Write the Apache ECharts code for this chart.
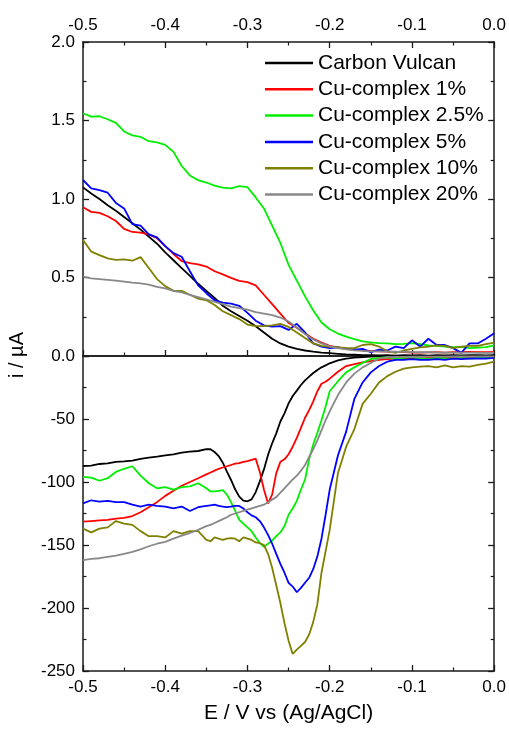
<!DOCTYPE html>
<html>
<head>
<meta charset="utf-8">
<script src="https://cdn.jsdelivr.net/npm/echarts@6/dist/echarts.min.js"></script>
<style>
html,body{margin:0;padding:0;background:#fff;}
#chart{width:509px;height:731px;}
</style>
</head>
<body>
<div id="chart"></div>
<script>
// ---------- DATA ----------
const seriesNames = ["Carbon Vulcan","Cu-complex 1%","Cu-complex 2.5%","Cu-complex 5%","Cu-complex 10%","Cu-complex 20%"];
const seriesColors = ["#000000","#ff0000","#00ee00","#0000ff","#808000","#888888"];

// Top panel (anodic, µA), x step 0.01
const xTop = [-0.50,-0.49,-0.48,-0.47,-0.46,-0.45,-0.44,-0.43,-0.42,-0.41,-0.40,-0.39,-0.38,-0.37,-0.36,-0.35,-0.34,-0.33,-0.32,-0.31,-0.30,-0.29,-0.28,-0.27,-0.26,-0.25,-0.24,-0.23,-0.22,-0.21,-0.20,-0.19,-0.18,-0.17,-0.16,-0.15,-0.14,-0.13,-0.12,-0.11,-0.10,-0.09,-0.08,-0.07,-0.06,-0.05,-0.04,-0.03,-0.02,-0.01,0.00];

const topBlack = [1.074,1.035,1.0,0.96,0.925,0.885,0.845,0.805,0.76,0.715,0.66,0.61,0.56,0.51,0.46,0.415,0.37,0.32,0.285,0.255,0.225,0.19,0.15,0.11,0.08,0.06,0.045,0.035,0.028,0.022,0.018,0.014,0.01,0.008,0.006,0.005,0.004,0.006,0.003,0.005,0.004,0.006,0.003,0.005,0.004,0.006,0.004,0.005,0.006,0.004,0.005];
const topRed = [0.947,0.918,0.912,0.89,0.86,0.81,0.79,0.786,0.775,0.75,0.70,0.65,0.605,0.592,0.584,0.57,0.54,0.52,0.498,0.478,0.47,0.45,0.39,0.33,0.27,0.21,0.18,0.145,0.11,0.085,0.065,0.055,0.045,0.04,0.036,0.032,0.03,0.028,0.026,0.025,0.022,0.022,0.023,0.024,0.022,0.025,0.024,0.026,0.025,0.024,0.025];
const topGreen = [1.546,1.525,1.527,1.508,1.485,1.43,1.405,1.396,1.368,1.36,1.345,1.30,1.21,1.15,1.12,1.105,1.085,1.072,1.068,1.082,1.075,1.01,0.94,0.83,0.72,0.58,0.48,0.38,0.29,0.213,0.17,0.143,0.123,0.107,0.093,0.087,0.082,0.08,0.076,0.077,0.082,0.075,0.068,0.064,0.06,0.056,0.058,0.05,0.054,0.057,0.068];
const topBlue = [1.121,1.068,1.057,1.04,0.975,0.94,0.84,0.83,0.775,0.755,0.70,0.655,0.632,0.54,0.45,0.40,0.355,0.34,0.333,0.32,0.275,0.225,0.195,0.187,0.19,0.166,0.205,0.15,0.08,0.06,0.05,0.055,0.045,0.04,0.045,0.025,0.04,0.035,0.06,0.05,0.10,0.06,0.11,0.07,0.07,0.05,0.02,0.08,0.08,0.11,0.145];
const topOlive = [0.739,0.665,0.643,0.622,0.612,0.615,0.607,0.63,0.56,0.49,0.445,0.415,0.415,0.39,0.365,0.355,0.325,0.285,0.26,0.235,0.20,0.19,0.19,0.195,0.205,0.185,0.15,0.115,0.08,0.065,0.058,0.055,0.052,0.05,0.07,0.075,0.06,0.03,0.02,0.035,0.045,0.055,0.06,0.068,0.065,0.05,0.06,0.065,0.065,0.075,0.085];
const topGray = [0.505,0.495,0.49,0.485,0.48,0.474,0.468,0.463,0.455,0.44,0.43,0.415,0.405,0.39,0.375,0.36,0.345,0.33,0.315,0.305,0.295,0.28,0.27,0.26,0.245,0.22,0.18,0.14,0.105,0.08,0.062,0.05,0.042,0.036,0.032,0.03,0.029,0.028,0.027,0.026,0.025,0.024,0.024,0.023,0.022,0.022,0.021,0.021,0.02,0.02,0.02];

// Bottom panel (cathodic, µA)
const xBottom = [-0.50,-0.49,-0.48,-0.47,-0.46,-0.45,-0.44,-0.43,-0.42,-0.41,-0.40,-0.39,-0.38,-0.37,-0.36,-0.35,-0.345,-0.34,-0.335,-0.33,-0.325,-0.32,-0.315,-0.31,-0.305,-0.30,-0.295,-0.29,-0.285,-0.28,-0.275,-0.27,-0.265,-0.26,-0.255,-0.25,-0.245,-0.24,-0.235,-0.23,-0.225,-0.22,-0.215,-0.21,-0.205,-0.20,-0.19,-0.18,-0.17,-0.16,-0.15,-0.14,-0.13,-0.12,-0.11,-0.10,-0.09,-0.08,-0.07,-0.06,-0.05,-0.04,-0.03,-0.02,-0.01,0.00];

const botBlack = [-87.3,-87,-85.7,-85.2,-84.1,-83.6,-83,-81.7,-80.7,-79.9,-78.8,-78,-76.7,-75.9,-75.4,-74,-74,-76.2,-79.4,-84.7,-91.8,-98.4,-105.8,-111.6,-114.8,-115.3,-113.8,-108,-99.5,-90,-78.5,-69.3,-61.4,-52,-45.5,-37.6,-31.7,-27.5,-23,-19.3,-16.4,-13.5,-11.1,-9,-7.4,-5.8,-3.5,-2,-1.3,-0.8,-0.5,-0.3,-0.3,-0.2,-0.2,-0.2,-0.1,-0.1,-0.1,-0.1,-0.1,0,0,0,0,0];
const botRed = [-131.5,-131,-130.5,-130,-129,-128.5,-127,-124,-120,-116,-111,-107,-103,-100,-97,-94,-92.5,-91,-89.5,-88.5,-87.5,-86.5,-85.5,-85,-84,-83.5,-82.5,-81.5,-92,-106,-117,-110,-93,-84,-82,-78,-72,-65,-57,-49,-43,-36,-28,-22,-20.4,-18,-12.5,-8,-6.5,-5,-4,-3,-2.5,-2,-2,-1.8,-1.8,-1.6,-1.5,-1.5,-1.3,-1.2,-1.2,-1.1,-1,-1];
const botGreen = [-96,-96.5,-99,-97,-92,-89.5,-87.5,-95,-101,-105,-104,-106,-104,-103.5,-101,-105,-107.5,-107.5,-107,-106.5,-110,-116,-123,-130,-133,-136,-139,-144,-148.5,-151.5,-149,-146.5,-143,-140,-135,-126,-121,-115,-106,-98,-82,-70,-61,-51,-40,-28,-20,-13,-9,-5.5,-2.5,-1.5,-1,-2,-1.5,-1,-2,-2.5,-1.5,-2,-2,-1.5,-2,-1.5,-1.5,-1];
const botBlue = [-117,-114.5,-115.5,-115,-116,-116,-118,-119.5,-118,-119,-119.5,-121,-119.5,-123,-120,-119,-118.5,-118,-119,-119.5,-120,-119.5,-119,-119,-121,-124,-126.5,-128,-131,-136,-142,-149,-157,-165,-172,-180,-183,-187.5,-184,-180,-176,-169,-159,-145,-126,-106,-79,-60,-34,-21,-13,-8,-4.5,-3,-3,-2.5,-3,-3,-2.5,-3,-2,-2.5,-2,-2,-2,-1.5];
const botOlive = [-137,-140,-137,-136,-131,-133,-134,-139,-143,-143,-144,-139,-141,-139,-139,-146,-147,-144,-145,-146,-145,-144.5,-145,-147,-144,-145,-146,-148,-148.5,-150,-157,-168,-182,-196,-212,-226,-236.5,-233,-230,-227,-221,-211,-197,-172,-155,-138,-93,-72,-58,-38,-30,-21,-16,-12.5,-10,-9,-8.5,-8,-9,-7.5,-9,-8,-8.5,-7,-6,-4.5];
const botGray = [-162,-161,-160.5,-159.5,-158.5,-157,-155.5,-153.5,-151,-149,-147.5,-145,-142.5,-140.5,-138,-135,-134,-132.5,-131,-129.5,-128,-126,-125,-124,-123,-122,-121,-120,-119,-118,-116,-114,-112,-108.5,-105,-101.5,-98,-95,-91,-86.5,-80,-74,-67,-59,-51,-44,-31,-21,-14,-9,-5.5,-2,-1,-0.8,-0.7,-0.6,-0.6,-0.5,-0.5,-0.5,-0.4,-0.4,-0.4,-0.3,-0.3,-0.3];

const topSets = [topBlack, topRed, topGreen, topBlue, topOlive, topGray];
const botSets = [botBlack, botRed, botGreen, botBlue, botOlive, botGray];

// ---------- CHART ----------
const FONT = "'Liberation Sans', Arial, sans-serif";
const AX = '#1a1a1a';
const fmtX = v => (Math.abs(v) < 1e-9 ? '0.0' : v.toFixed(1));

function xAxisDef(grid, pos, labels) {
  return {
    type: 'value', gridIndex: grid, position: pos, min: -0.5, max: 0, interval: 0.1,
    axisLine: { show: true, onZero: false, lineStyle: { color: AX, width: 1.5 } },
    axisTick: { show: true, inside: true, length: 6, lineStyle: { color: AX, width: 1.3 } },
    minorTick: { show: true, splitNumber: 2, length: 3.5, lineStyle: { color: AX, width: 1.2 } },
    axisLabel: { show: labels, formatter: fmtX, color: '#000', fontFamily: FONT, fontSize: 17, margin: 8 },
    splitLine: { show: false }
  };
}
function yAxisDef(grid, pos, labels, min, max, interval, fmt, hideMax) {
  return {
    type: 'value', gridIndex: grid, position: pos, min: min, max: max, interval: interval,
    axisLine: { show: true, onZero: false, lineStyle: { color: AX, width: 1.5 } },
    axisTick: { show: true, inside: true, length: 6, lineStyle: { color: AX, width: 1.3 } },
    minorTick: { show: true, splitNumber: 2, length: 3.5, lineStyle: { color: AX, width: 1.2 } },
    axisLabel: { show: labels, formatter: fmt, color: '#000', fontFamily: FONT, fontSize: 17, margin: 8, showMaxLabel: !hideMax },
    splitLine: { show: false }
  };
}

const series = [];
seriesNames.forEach((name, i) => {
  series.push({
    name: name, type: 'line', xAxisIndex: 0, yAxisIndex: 0, showSymbol: false, symbol: 'none',
    data: xTop.map((x, k) => [x, topSets[i][k]]),
    lineStyle: { color: seriesColors[i], width: 1.8 }, itemStyle: { color: seriesColors[i] },
    clip: false, animation: false
  });
});
seriesNames.forEach((name, i) => {
  series.push({
    name: name, type: 'line', xAxisIndex: 2, yAxisIndex: 2, showSymbol: false, symbol: 'none',
    data: xBottom.map((x, k) => [x, botSets[i][k]]),
    lineStyle: { color: seriesColors[i], width: 1.8 }, itemStyle: { color: seriesColors[i] },
    clip: true, animation: false
  });
});

const option = {
  backgroundColor: '#ffffff',
  animation: false,
  grid: [
    { left: 83, top: 42, width: 413, height: 314 },
    { left: 83, top: 356, width: 413, height: 315 }
  ],
  xAxis: [
    xAxisDef(0, 'top', true),
    xAxisDef(0, 'bottom', false),
    Object.assign(xAxisDef(1, 'bottom', true), {
      name: 'E / V vs (Ag/AgCl)', nameLocation: 'middle', nameGap: 32,
      nameTextStyle: { color: '#000', fontFamily: FONT, fontSize: 21 }
    }),
    Object.assign(xAxisDef(1, 'top', false), { axisTick: { show: false }, minorTick: { show: false } })
  ],
  yAxis: [
    yAxisDef(0, 'left', true, 0, 2, 0.5, v => v.toFixed(1), false),
    yAxisDef(0, 'right', false, 0, 2, 0.5, v => v.toFixed(1), false),
    yAxisDef(1, 'left', true, -250, 0, 50, v => String(Math.round(v)), true),
    yAxisDef(1, 'right', false, -250, 0, 50, v => String(Math.round(v)), true)
  ],
  legend: {
    orient: 'vertical', left: 265, top: 52.5, padding: 0,
    icon: 'rect', itemWidth: 48, itemHeight: 2.5, itemGap: 5.3,
    textStyle: { color: '#000', fontFamily: FONT, fontSize: 21, lineHeight: 21 },
    data: seriesNames
  },
  graphic: [
    { type: 'text', x: 17, y: 355, rotation: Math.PI / 2,
      style: { text: 'i / µA', fill: '#000', font: "20px 'Liberation Sans', Arial, sans-serif", align: 'center', verticalAlign: 'middle' } }
  ],
  series: series
};

const chart = echarts.init(document.getElementById('chart'), null, { renderer: 'canvas' });
chart.setOption(option);
</script>
</body>
</html>
